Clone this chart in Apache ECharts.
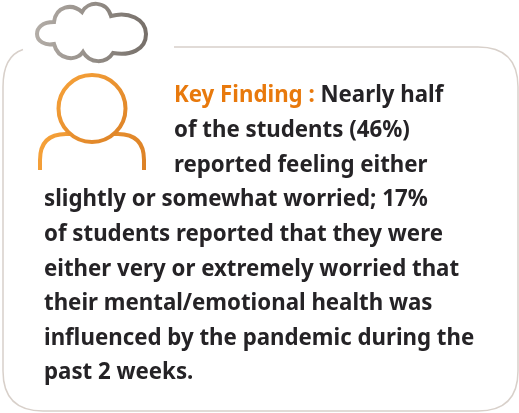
<!DOCTYPE html>
<html>
<head>
<meta charset="utf-8">
<style>
html, body { margin: 0; padding: 0; background: #fff; }
#main { width: 519px; height: 413px; }
</style>
</head>
<body>
<div id="main"></div>
<script src="https://cdn.jsdelivr.net/npm/echarts@6/dist/echarts.min.js"></script>
<script>
var label = 'Key Finding : '
var firstLine = 'Nearly half'
var shortLines = ['of the students (46%)', 'reported feeling either']
var longLines = [
  'slightly or somewhat worried; 17%',
  'of students reported that they were',
  'either very or extremely worried that',
  'their mental/emotional health was',
  'influenced by the pandemic during the',
  'past 2 weeks.'
]

var myChart = echarts.init(document.getElementById('main'), null, { renderer: 'canvas' })
var font = { fontFamily: 'Noto Sans', fontSize: 22.25, fontWeight: 700 }

// the graphic component has no plain path type, so register the outlines
echarts.graphic.registerShape('cardBorder', echarts.graphic.extendPath(
  'M174 47 L478 47 Q518 47 518 87 L518 371 Q518 411 478 411 L43 411 Q3 411 3 371 L3 87 Q3 56 23 49.5', {}))
echarts.graphic.registerShape('cloud', echarts.graphic.extendPath(
  'M54 22 C42 22 37 28 37 34 C37 41 45 46 54 44 C58 60 76 62 83 52 C90 64 106 64 113 53 C130 56 146 50 146 34 C146 19 128 11 111 16 C106 0 88 1 82 12 C72 3 56 6 54 22 Z', {}))
echarts.graphic.registerShape('shoulders', echarts.graphic.extendPath(
  'M40 170 L40 160 Q40 134 66 134 L72 134 M112 134 L118 134 Q144 134 144 160 L144 170', {}))

function textEl(str, x, y) {
  return {
    type: 'text',
    x: x,
    y: y,
    style: Object.assign({ text: str, fill: '#252326', textVerticalAlign: 'middle' }, font)
  }
}

var cloudGrad = new echarts.graphic.LinearGradient(0, 0, 1, 0, [
  { offset: 0, color: '#b3ada7' },
  { offset: 1, color: '#766f69' }
])
var headGrad = new echarts.graphic.LinearGradient(0, 0, 1, 1, [
  { offset: 0, color: '#f7a33a' },
  { offset: 1, color: '#dc8126' }
])

var elements = [
  { type: 'cardBorder', style: { fill: 'none', stroke: '#d8d0ca', lineWidth: 1.5 } },
  { type: 'cloud', style: { fill: '#fff', stroke: cloudGrad, lineWidth: 4 } },
  { type: 'shoulders', style: { fill: 'none', stroke: headGrad, lineWidth: 4 } },
  // head
  {
    type: 'circle',
    shape: { cx: 92, cy: 108.5, r: 33.5 },
    style: { fill: '#fff', stroke: headGrad, lineWidth: 4 }
  },
  // first line, orange label then dark text
  {
    type: 'text',
    x: 174,
    y: 96,
    style: Object.assign({
      text: '{a|' + label + '}{b|' + firstLine + '}',
      textVerticalAlign: 'middle',
      rich: {
        a: Object.assign({ fill: '#e8790c' }, font),
        b: Object.assign({ fill: '#252326' }, font)
      }
    }, font)
  }
]

shortLines.forEach(function (str, i) {
  elements.push(textEl(str, 174, 130.5 + i * 35))
})
longLines.forEach(function (str, i) {
  elements.push(textEl(str, 44, 200 + i * 34.6))
})

myChart.setOption({
  backgroundColor: '#ffffff',
  animation: false,
  graphic: { elements: elements }
})
</script>
</body>
</html>
